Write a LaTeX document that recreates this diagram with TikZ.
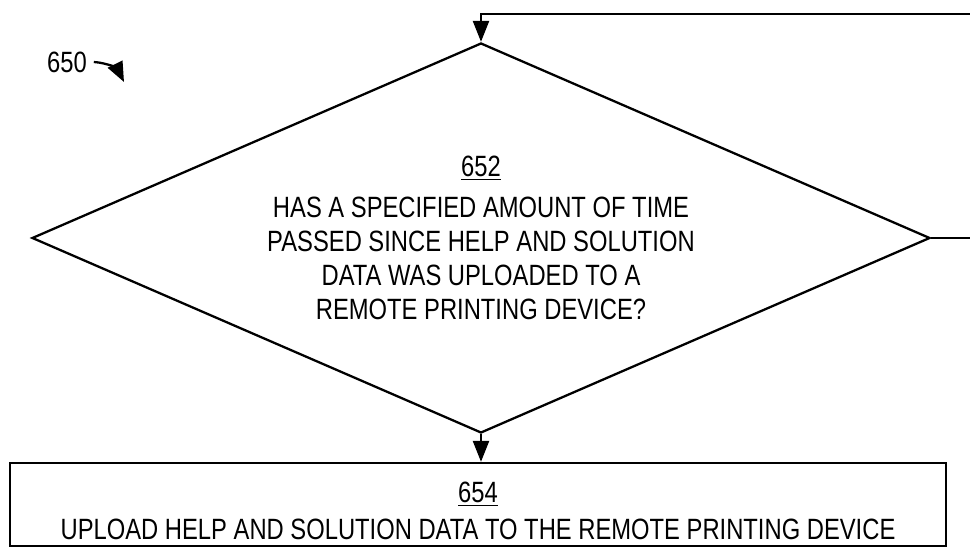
\documentclass[tikz,border=0pt]{standalone}
\usepackage{fontspec}
\setmainfont{Liberation Sans}[FakeStretch=0.81]
\usetikzlibrary{shapes.geometric, arrows.meta}

\begin{document}
\begin{tikzpicture}[
		line width=1.3pt,
		flow/.style={-{Triangle[length=0.42cm, width=0.32cm]}},
		txt/.style={font=\fontsize{16.7}{19.3}\selectfont, align=center}
	]
	\useasboundingbox (0,0) rectangle (19.4,-10.98);

	% figure number
	\node[txt] (fig650) at (1.34,-1.24) {650};
	\coordinate (fig650tip) at (2.48,-1.64);
	\draw[-{Triangle[length=0.4cm, width=0.32cm]}] (fig650.east) to[bend left=30] (fig650tip);

	% decision 652
	\node[diamond, draw, txt, inner sep=0pt, aspect=2.303, minimum width=17.96cm, minimum height=7.8cm] (q652) at (9.62,-4.76)
		{\underline{652}\\[4pt] HAS A SPECIFIED AMOUNT OF TIME\\ PASSED SINCE HELP AND SOLUTION\\ DATA WAS UPLOADED TO A\\ REMOTE PRINTING DEVICE?};

	% action 654
	\node[draw, rectangle, txt, inner sep=0pt, text height=40.4pt, minimum width=18.72cm, minimum height=1.66cm] (a654) at (9.56,-10.09)
		{\underline{654}\\[2pt] UPLOAD HELP AND SOLUTION DATA TO THE REMOTE PRINTING DEVICE};

	% loose ends at the right border
	\coordinate (loopin) at (19.4,-0.28);
	\coordinate (noout) at (19.4,-4.76);

	\draw[flow] (loopin) -| (q652.north);
	\draw (q652.east) -- (noout);
	\draw[flow] (q652.south) -- (q652.south |- a654.north);
\end{tikzpicture}
\end{document}
